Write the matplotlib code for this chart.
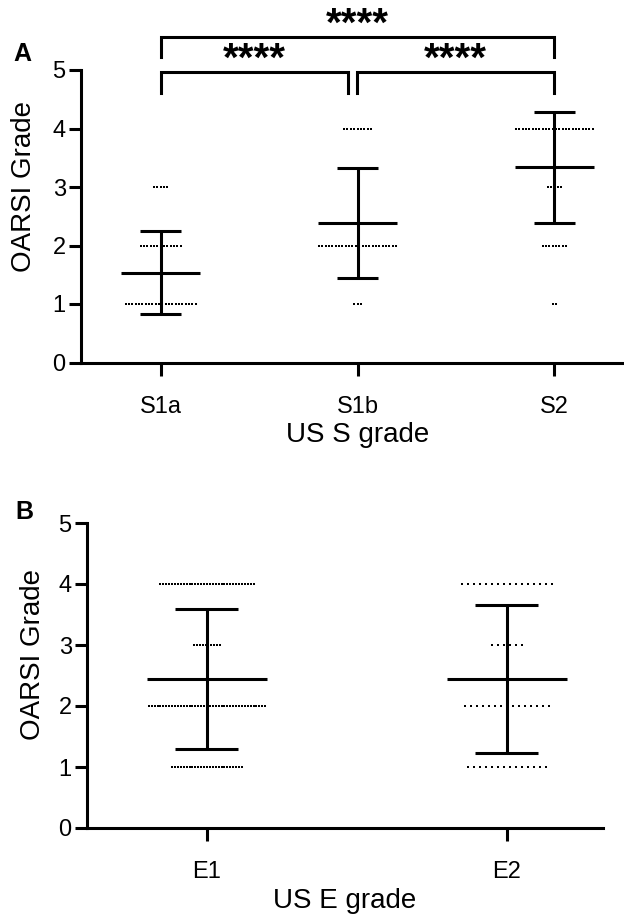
import matplotlib.pyplot as plt
import numpy as np

plt.rcParams['font.family'] = ['Liberation Sans', 'DejaVu Sans']

# OARSI grades (y values of the dot rows)
grades = [1, 2, 3, 4]

# panel A: OARSI grade by US S grade
s_groups = ['S1a', 'S1b', 'S2']
s_counts = [[22, 13, 5, 0],
            [3, 24, 0, 9],
            [2, 8, 5, 24]]
s_mean = [1.535, 2.385, 3.335]
s_sd = [0.705, 0.945, 0.945]
s_sig = ['****', '****', '****']  # S1a-S1b, S1b-S2, S1a-S2

# panel B: OARSI grade by US E grade
e_groups = ['E1', 'E2']
e_counts = [[25, 41, 10, 33],
            [14, 15, 6, 16]]
e_mean = [2.445, 2.445]
e_sd = [1.145, 1.215]

LW = 2.2


def draw_panel(ax, groups, counts, mean, sd, step, xlim, xlabel):
    for i in range(len(groups)):
        for g, n in zip(grades, counts[i]):
            if n == 0:
                continue
            xs = i + (np.arange(n) - (n - 1) / 2) * step[i]
            ax.plot(xs, [g] * n, 's', ms=1.5, color='black', mew=0)
        ax.vlines(i, mean[i] - sd[i], mean[i] + sd[i], color='black', lw=LW)
        ax.hlines([mean[i] - sd[i], mean[i] + sd[i]], i - 0.105, i + 0.105,
                  color='black', lw=LW)
        ax.hlines(mean[i], i - 0.2, i + 0.2, color='black', lw=LW)

    ax.set_xlim(*xlim)
    ax.set_ylim(0, 5)
    ax.set_xticks(range(len(groups)))
    ax.set_xticklabels(groups)
    ax.set_yticks([0, 1, 2, 3, 4, 5])
    for side in ['top', 'right']:
        ax.spines[side].set_visible(False)
    for side in ['left', 'bottom']:
        ax.spines[side].set_linewidth(LW)
    ax.tick_params(axis='y', length=9, width=LW, pad=2, labelsize=17)
    ax.tick_params(axis='x', length=9, width=LW, pad=15, labelsize=17)
    ax.set_ylabel('OARSI Grade', fontsize=20)
    ax.set_xlabel(xlabel, fontsize=20, labelpad=3)


fig = plt.figure(figsize=(6.24, 9.23), dpi=100)

axA = fig.add_axes([81 / 624, (923 - 362.5) / 923, (634 - 81) / 624, 292.5 / 923])
draw_panel(axA, s_groups, s_counts, s_mean, s_sd, [0.017, 0.017, 0.017],
           (-0.405, 2.405), 'US S grade')
axA.yaxis.set_label_coords(-0.08, 0.603)

# significance brackets
brackets = [(0, 0.95, 4.97, 4.61), (0.995, 2.0, 4.97, 4.61), (0, 2.0, 5.56, 5.22)]
for (x0, x1, top, bot), lab in zip(brackets, s_sig):
    axA.plot([x0, x0, x1, x1], [bot, top, top, bot], color='black', lw=LW,
             clip_on=False, solid_joinstyle='miter')
    axA.text((x0 + x1) / 2, top + 0.02, lab, ha='center', va='baseline',
             fontsize=29, fontweight='bold', clip_on=False)

axB = fig.add_axes([87 / 624, (923 - 828) / 923, (603 - 87) / 624, 305 / 923])
draw_panel(axB, e_groups, e_counts, e_mean, e_sd, [0.0097, 0.0198],
           (-0.4, 1.32), 'US E grade')
axB.yaxis.set_label_coords(-0.08, 0.57)

fig.text(22 / 624, 1 - 54 / 923, 'A', fontsize=18, fontweight='bold',
         ha='center', va='center')
fig.text(24 / 624, 1 - 512 / 923, 'B', fontsize=18, fontweight='bold',
         ha='center', va='center')

fig.savefig('out.png', dpi=100)
